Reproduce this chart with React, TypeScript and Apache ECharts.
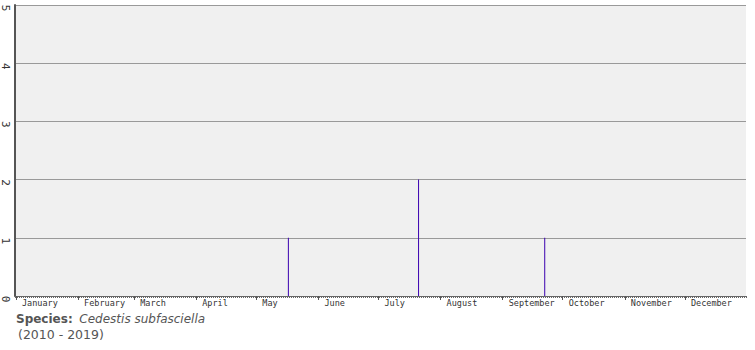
import React, { useEffect, useRef } from "react";
import * as echarts from "echarts";

const monthNames = ["January", "February", "March", "April", "May", "June", "July", "August", "September", "October", "November", "December"];
const monthDays = [31, 28, 31, 30, 31, 30, 31, 31, 30, 31, 30, 31];
// observations: [day of year (1-based), count]
const observations: [number, number][] = [
  [137, 1],
  [202, 2],
  [265, 1],
];
const yTicks = [0, 1, 2, 3, 4, 5];
const speciesName = "Cedestis subfasciella";
const yearRange = "(2010 - 2019)";

export default function App() {
  const ref = useRef<HTMLDivElement>(null);
  useEffect(() => {
    document.body.style.margin = "0";
    if (!ref.current) return;
    const chart = echarts.init(ref.current, null, { renderer: "svg" });
    const days: string[] = [];
    const monthStart: Record<number, string> = {};
    let idx = 0;
    monthDays.forEach((n, m) => {
      monthStart[idx] = monthNames[m];
      for (let d = 0; d < n; d++) {
        days.push(String(idx + 1));
        idx++;
      }
    });
    const values: (number | null)[] = days.map(() => null);
    observations.forEach(([d, c]) => {
      values[d - 1] = c;
    });
    const labelFont = "DejaVu Sans Mono";
    chart.setOption({
      animation: false,
      backgroundColor: "#ffffff",
      grid: { left: 15, top: 5, right: 9, bottom: 54, backgroundColor: "#f0f0f0", show: true, borderWidth: 0 },
      xAxis: [
        {
          type: "category",
          data: days,
          position: "bottom",
          axisLine: { show: true, lineStyle: { color: "#666666", width: 1 } },
          axisTick: { show: true, interval: 0, length: 2, lineStyle: { color: "#666666" } },
          axisLabel: { show: false },
          splitLine: { show: false },
        },
        {
          type: "category",
          data: days,
          position: "bottom",
          axisLine: { show: false },
          axisTick: {
            show: true,
            alignWithLabel: true,
            length: 4,
            interval: (i: number) => monthStart[i] !== undefined,
            lineStyle: { color: "#555555" },
          },
          axisLabel: {
            show: true,
            interval: (i: number) => monthStart[i] !== undefined,
            formatter: (_v: string, i: number) => monthStart[i] || "",
            align: "left",
            padding: [0, 0, 0, 6],
            margin: 2,
            fontFamily: labelFont,
            fontSize: 8.5,
            color: "#333333",
          },
          splitLine: { show: false },
        },
      ],
      yAxis: {
        type: "value",
        min: yTicks[0],
        max: yTicks[yTicks.length - 1],
        interval: 1,
        axisLine: { show: true, lineStyle: { color: "#555555", width: 2 } },
        axisTick: { show: false },
        splitLine: { show: true, lineStyle: { color: "#999999", width: 1 } },
        axisLabel: {
          rotate: -90,
          margin: 4,
          padding: [0, 0, 0, 6],
          fontFamily: labelFont,
          fontSize: 11,
          color: "#333333",
        },
      },
      series: [
        {
          type: "bar",
          xAxisIndex: 0,
          data: values,
          barWidth: 1,
          itemStyle: { color: "#3a00b0" },
        },
      ],
      graphic: [
        {
          type: "text",
          left: 16,
          top: 313,
          style: {
            text: "{b|Species:}  {i|" + speciesName + "}",
            rich: {
              b: { fontFamily: "DejaVu Sans", fontWeight: "bold", fontSize: 12, fill: "#555555" },
              i: { fontFamily: "DejaVu Sans", fontStyle: "italic", fontSize: 12, fill: "#555555" },
            },
          },
        },
        {
          type: "text",
          left: 18,
          top: 328,
          style: { text: yearRange, fontFamily: "DejaVu Sans", fontSize: 12.5, fill: "#555555" },
        },
      ],
    });
    return () => chart.dispose();
  }, []);
  return <div ref={ref} style={{ width: 755, height: 350 }} />;
}
